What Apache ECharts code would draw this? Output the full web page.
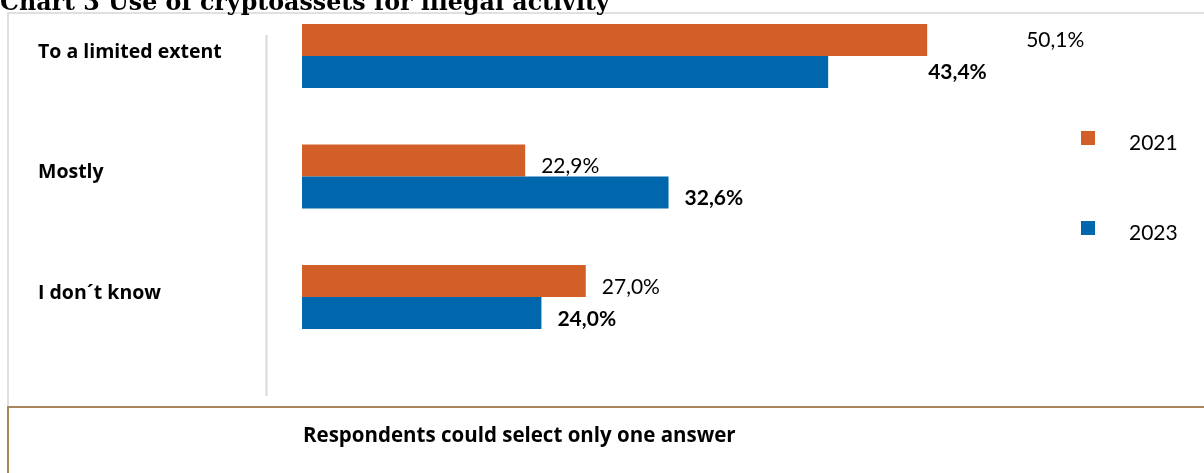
<!DOCTYPE html>
<html>
<head>
<meta charset="utf-8">
<script src="https://cdn.jsdelivr.net/npm/echarts@6/dist/echarts.min.js"></script>
<style>
  html, body { margin: 0; padding: 0; background: #fff; overflow: hidden; }
  /* canvas starts a little above the page so the plot can begin at the very top */
  #chart { position: absolute; left: 0; top: -10px; width: 1204px; height: 483px; }
</style>
</head>
<body>
<div id="chart"></div>
<script>
// Survey answers, share of respondents (%)
const categories = ['To a limited extent', 'Mostly', 'I don\u00b4t know'];
const years = ['2021', '2023'];
const values2021 = [50.1, 22.9, 27.0];
const values2023 = [43.4, 32.6, 24.0];

const titleText = 'Chart 3 Use of cryptoassets for illegal activity';
const noteText = 'Respondents could select only one answer';

const ORANGE = '#D25F28';
const BLUE = '#0067AC';
const FONT = 'Lato, "Open Sans", sans-serif';
const BOLD_FONT = '"Open Sans", Lato, sans-serif';
const DY = 10; // vertical shift of the canvas relative to the page

const fmt = v => v.toFixed(1).replace('.', ',') + '%';

// The top answer's labels sit further out from their bars
function buildItems(values, firstOffset) {
  return values.map((v, i) => ({
    value: v,
    label: { offset: i === 0 ? firstOffset : [0, 6] }
  }));
}

// Legend swatch: a 14px square in the upper part of a 14x24 box
const swatch = 'path://M0,0L14,0L14,14L0,14Z M0,24L0.01,24L0,23.99Z';

const chart = echarts.init(document.getElementById('chart'), null, { renderer: 'canvas' });

chart.setOption({
  animation: false,
  backgroundColor: '#fff',
  title: {
    text: titleText,
    left: 0,
    top: DY - 8,
    padding: 0,
    textStyle: {
      fontFamily: '"DejaVu Serif", serif',
      fontWeight: 'bold',
      fontSize: 23.75,
      color: '#000'
    }
  },
  graphic: [
    {
      type: 'rect', silent: true, z: -1,
      shape: { x: 8, y: DY + 13, width: 1300, height: 394 },
      style: { fill: 'none', stroke: '#D6D6D6', lineWidth: 1.5 }
    },
    {
      type: 'line', silent: true,
      shape: { x1: 266.5, y1: DY + 35, x2: 266.5, y2: DY + 396 },
      style: { stroke: '#D9D9D9', lineWidth: 2 }
    },
    {
      type: 'rect', silent: true,
      shape: { x: 8, y: DY + 407, width: 1300, height: 100 },
      style: { fill: 'none', stroke: '#A8855A', lineWidth: 2 }
    },
    {
      type: 'text', silent: true,
      style: {
        x: 303, y: DY + 436, text: noteText,
        verticalAlign: 'middle',
        font: 'bold 20.5px ' + BOLD_FONT,
        fill: '#000'
      }
    }
  ],
  legend: {
    orient: 'vertical',
    left: 1081,
    top: DY + 131,
    padding: 0,
    itemGap: 66,
    itemWidth: 14,
    itemHeight: 24,
    icon: swatch,
    data: years,
    textStyle: {
      fontFamily: FONT,
      fontSize: 21,
      lineHeight: 22,
      color: '#000',
      padding: [0, 0, 0, 29]
    }
  },
  grid: {
    left: 302,
    top: DY - 4.25,
    width: 771.5,
    height: 361.5,
    containLabel: false
  },
  xAxis: {
    type: 'value',
    min: 7.8,
    max: 60,
    show: false
  },
  yAxis: {
    type: 'category',
    data: categories,
    inverse: true,
    axisLine: { show: false },
    axisTick: { show: false },
    splitLine: { show: false },
    axisLabel: {
      align: 'left',
      verticalAlign: 'bottom',
      lineHeight: 8,
      margin: 264,
      fontFamily: BOLD_FONT,
      fontWeight: 'bold',
      fontSize: 19.5,
      color: '#000'
    }
  },
  series: [
    {
      name: years[0],
      type: 'bar',
      barWidth: 32,
      barGap: '0%',
      itemStyle: { color: ORANGE },
      data: buildItems(values2021, [83, 0]),
      label: {
        show: true,
        position: 'right',
        distance: 16,
        fontFamily: FONT,
        fontSize: 21,
        color: '#000',
        formatter: p => fmt(p.value)
      }
    },
    {
      name: years[1],
      type: 'bar',
      barWidth: 32,
      barGap: '0%',
      itemStyle: { color: BLUE },
      data: buildItems(values2023, [84, 0]),
      label: {
        show: true,
        position: 'right',
        distance: 16,
        fontFamily: FONT,
        fontWeight: 'bold',
        fontSize: 21,
        color: '#000',
        formatter: p => fmt(p.value)
      }
    }
  ]
});
</script>
</body>
</html>
